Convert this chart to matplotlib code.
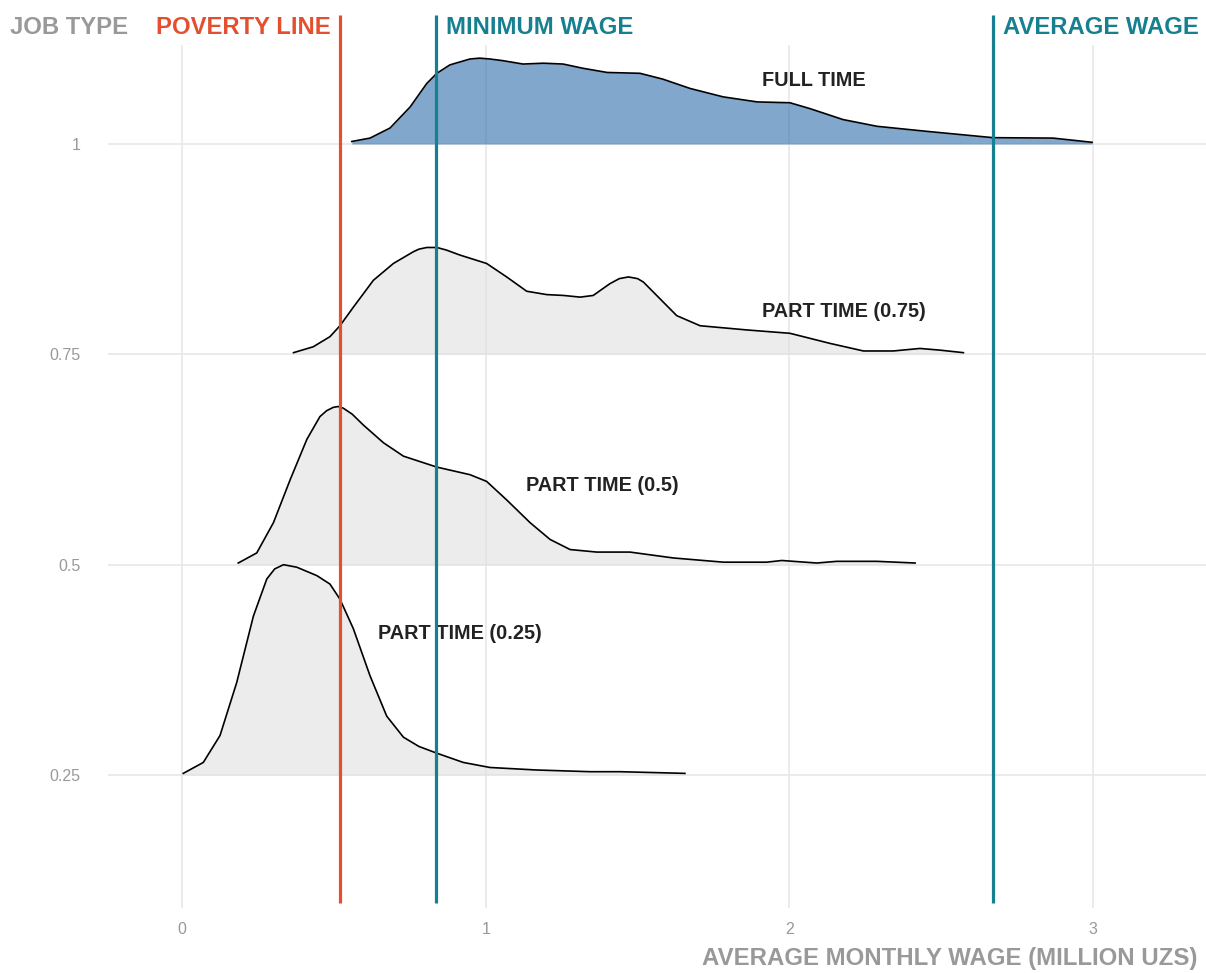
import numpy as np
import matplotlib
matplotlib.use("Agg")
import matplotlib.pyplot as plt

plt.rcParams['font.family'] = ['Liberation Sans', 'DejaVu Sans']

# ridge baselines (job type) and labels
job_types = [1.0, 0.75, 0.5, 0.25]
ridge_labels = ["FULL TIME", "PART TIME (0.75)", "PART TIME (0.5)", "PART TIME (0.25)"]
label_x = [1.91, 1.91, 1.133, 0.645]
label_dy = [0.076, 0.051, 0.094, 0.168]

# wage (million UZS) and ridge height for each job type
ft_x = [0.559, 0.619, 0.685, 0.751, 0.806, 0.839, 0.882, 0.948, 0.98, 1.014, 1.057, 1.123,
        1.19, 1.255, 1.320, 1.400, 1.508, 1.584, 1.673, 1.782, 1.894, 2.002, 2.068, 2.177,
        2.289, 2.453, 2.671, 2.868, 2.997]
ft_h = [0.003, 0.007, 0.019, 0.044, 0.072, 0.084, 0.094, 0.101, 0.102, 0.101, 0.099, 0.095,
        0.096, 0.095, 0.090, 0.085, 0.084, 0.077, 0.066, 0.056, 0.050, 0.049, 0.042, 0.029,
        0.021, 0.015, 0.0075, 0.007, 0.002]

pt75_x = [0.367, 0.432, 0.487, 0.520, 0.564, 0.630, 0.696, 0.762, 0.78, 0.806, 0.839, 0.87,
          0.915, 1.003, 1.069, 1.135, 1.201, 1.256, 1.311, 1.354, 1.409, 1.44, 1.470, 1.50,
          1.519, 1.574, 1.629, 1.706, 1.860, 2.002, 2.134, 2.244, 2.342, 2.430, 2.496, 2.573]
pt75_h = [0.002, 0.009, 0.021, 0.034, 0.056, 0.088, 0.108, 0.122, 0.125, 0.127, 0.127, 0.124,
          0.118, 0.108, 0.092, 0.075, 0.071, 0.070, 0.068, 0.070, 0.084, 0.090, 0.092, 0.090,
          0.086, 0.066, 0.046, 0.034, 0.029, 0.025, 0.013, 0.004, 0.004, 0.007, 0.005, 0.002]

pt50_x = [0.185, 0.246, 0.301, 0.356, 0.411, 0.454, 0.476, 0.498, 0.514, 0.531, 0.56, 0.597,
          0.663, 0.729, 0.839, 0.948, 1.003, 1.069, 1.146, 1.212, 1.278, 1.366, 1.475, 1.618,
          1.783, 1.925, 1.975, 2.090, 2.156, 2.288, 2.414]
pt50_h = [0.002, 0.014, 0.050, 0.101, 0.149, 0.176, 0.183, 0.187, 0.188, 0.186, 0.179, 0.166,
          0.145, 0.129, 0.116, 0.107, 0.099, 0.077, 0.050, 0.030, 0.018, 0.015, 0.015, 0.008,
          0.003, 0.003, 0.005, 0.002, 0.004, 0.004, 0.002]

pt25_x = [0.004, 0.070, 0.125, 0.180, 0.235, 0.279, 0.305, 0.334, 0.378, 0.444, 0.487, 0.520,
          0.564, 0.619, 0.674, 0.729, 0.78, 0.839, 0.926, 1.014, 1.168, 1.344, 1.442, 1.656]
pt25_h = [0.002, 0.015, 0.047, 0.110, 0.189, 0.233, 0.245, 0.250, 0.247, 0.237, 0.227, 0.209,
          0.174, 0.118, 0.070, 0.045, 0.034, 0.026, 0.015, 0.009, 0.006, 0.004, 0.004, 0.002]

ridges_x = [ft_x, pt75_x, pt50_x, pt25_x]
ridges_h = [ft_h, pt75_h, pt50_h, pt25_h]
fills = ["#2F6DAA", "#E0E0E0", "#E0E0E0", "#E0E0E0"]

# reference wages
poverty_line = 0.52
minimum_wage = 0.836
average_wage = 2.671

red = "#E4502F"
teal = "#168090"
grey = "#999999"

fig = plt.figure(figsize=(12.06, 9.73), dpi=100)
ax = fig.add_axes([0.0896, 0.0668, 0.9104, 0.887])
ax.set_xlim(-0.2437, 3.372)
ax.set_ylim(0.092, 1.1177)

for s in ax.spines.values():
    s.set_visible(False)
ax.set_xticks([0, 1, 2, 3])
ax.set_yticks([0.25, 0.5, 0.75, 1])
ax.set_xticklabels(["0", "1", "2", "3"])
ax.set_yticklabels(["0.25", "0.5", "0.75", "1"])
ax.tick_params(length=0, labelsize=11.5, labelcolor=grey)
ax.tick_params(axis='y', pad=20)
ax.tick_params(axis='x', pad=10)
ax.grid(True, color="#E6E6E6", lw=1.1)
ax.set_axisbelow(True)

for i, (base, xs, hs) in enumerate(zip(job_types, ridges_x, ridges_h)):
    xs = np.array(xs)
    top = base + np.array(hs)
    ax.fill_between(xs, base, top, color=fills[i], alpha=0.6, lw=0, zorder=2 + i)
    ax.plot(xs, top, color="black", lw=1.2, zorder=2 + i, solid_joinstyle="round")
    ax.text(label_x[i], base + label_dy[i], ridge_labels[i], fontsize=14.3,
            fontweight="bold", color="#222222", va="center", ha="left", zorder=10)

# vertical reference lines running into the header
ax.vlines([poverty_line], 0.098, 1.153, color=red, lw=2.3, zorder=20, clip_on=False)
ax.vlines([minimum_wage, average_wage], 0.098, 1.153, color=teal, lw=2.3, zorder=20, clip_on=False)

ytxt = 1 - 27 / 973
fig.text(10 / 1206, ytxt, "JOB TYPE", color=grey, fontsize=17.2, fontweight="bold", va="center", ha="left")
fig.text(331 / 1206, ytxt, "POVERTY LINE", color=red, fontsize=17.2, fontweight="bold", va="center", ha="right")
fig.text(446 / 1206, ytxt, "MINIMUM WAGE", color=teal, fontsize=17.2, fontweight="bold", va="center", ha="left")
fig.text(1003 / 1206, ytxt, "AVERAGE WAGE", color=teal, fontsize=17.2, fontweight="bold", va="center", ha="left")

fig.text(1197 / 1206, 1 - 958 / 973, "AVERAGE MONTHLY WAGE (MILLION UZS)", color=grey,
         fontsize=17.3, fontweight="bold", va="center", ha="right")

fig.savefig("out.png", dpi=100)
